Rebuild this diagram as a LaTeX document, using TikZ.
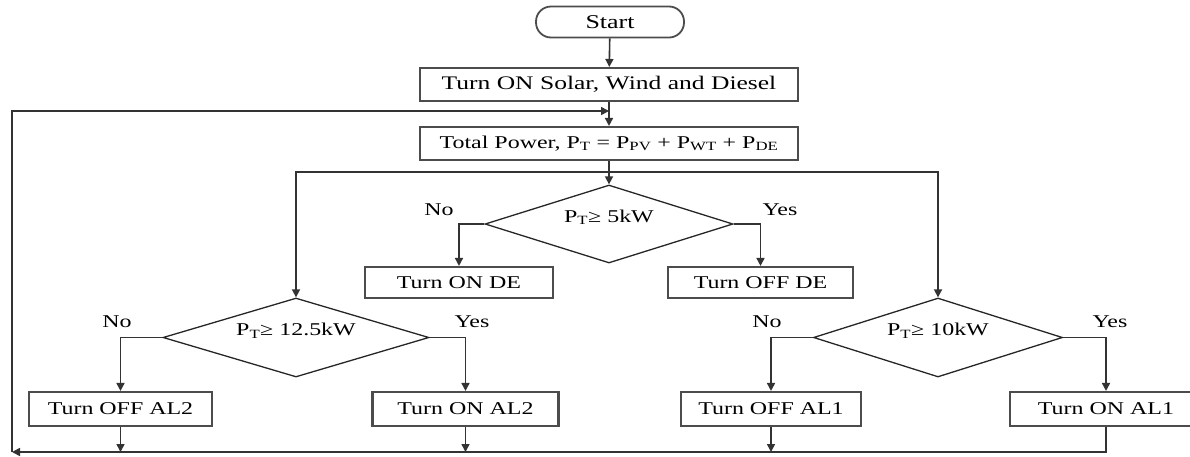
\documentclass[tikz,border=0pt]{standalone}
\usepackage{fontspec}
\setmainfont{Liberation Serif}[FakeStretch=1.33]
\usetikzlibrary{shapes.geometric,arrows.meta}
\begin{document}
\begin{tikzpicture}[x=1pt,y=-1pt,
  every node/.style={font=\fontsize{18}{20}\selectfont, text=black},
  boxnode/.style={draw=black!70, line width=2.1pt, rectangle, minimum height=33pt, inner sep=0pt},
  decision/.style={draw=black!85, line width=1.3pt, diamond, shape aspect=3, inner sep=0pt, text height=6pt, text depth=10pt},
  conn/.style={draw=black!80, line width=1.6pt},
  arr/.style={conn, -{Triangle[length=8pt,width=8pt]}},
  lbl/.style={inner sep=0pt}]
\useasboundingbox (0,0) rectangle (1190,456);

% nodes
\node[draw=black!70, line width=1.8pt, rounded corners=15pt, minimum width=148pt, minimum height=31pt, inner sep=0pt, font=\fontsize{19.5}{21}\selectfont] (start) at (610,22) {Start};
\node[boxnode, minimum width=378pt, font=\fontsize{19.2}{21}\selectfont] (b1) at (609,84.5) {Turn ON Solar, Wind and Diesel};
\node[boxnode, minimum width=378pt] (b2) at (609,143.5) {Total Power, P\textsubscript{T} = P\textsubscript{PV} + P\textsubscript{WT} + P\textsubscript{DE}};
\node[decision, minimum width=248pt, minimum height=78pt] (d1) at (609,224) {P\textsubscript{T}≥ 5kW};
\node[boxnode, minimum width=188pt, minimum height=31pt] (onde) at (459,282.5) {Turn ON DE};
\node[boxnode, minimum width=185pt, minimum height=31pt] (offde) at (760.5,282.5) {Turn OFF DE};
\node[decision, minimum width=266pt, minimum height=79pt] (d2) at (296,337.5) {P\textsubscript{T}≥ 12.5kW};
\node[decision, minimum width=249pt, minimum height=79pt] (d3) at (938,337.5) {P\textsubscript{T}≥ 10kW};
\node[boxnode, minimum width=183pt, minimum height=34pt] (offal2) at (120.5,409) {Turn OFF AL2};
\node[boxnode, minimum width=186pt, minimum height=34pt] (onal2) at (465.5,409) {Turn ON AL2};
\node[boxnode, minimum width=180pt, minimum height=34pt] (offal1) at (771,409) {Turn OFF AL1};
\node[boxnode, minimum width=192pt, minimum height=34pt] (onal1) at (1106,409) {Turn ON AL1};

% labels
\node[lbl] (n1) at (439,210) {No};
\node[lbl] (y1) at (780,210) {Yes};
\node[lbl] (n2) at (117,322) {No};
\node[lbl] (y2) at (472,322) {Yes};
\node[lbl] (n3) at (767,322) {No};
\node[lbl] (y3) at (1110,322) {Yes};

% coordinates
\coordinate (split) at (609,172);
\coordinate (bl) at (12,452);
\coordinate (tl) at (12,111);
\coordinate (join) at (609,111);

% connectors
\draw[arr] (start) -- (b1);
\draw[arr] (b1) -- (b2);
\draw[arr] (b2) -- (d1);
\draw[arr] (split) -| (d2.north);
\draw[arr] (split) -| (d3.north);
\draw[arr] (d1.west) -| (onde.north);
\draw[arr] (d1.east) -| (offde.north);
\draw[arr] (d2.west) -| (offal2.north);
\draw[arr] (d2.east) -| (onal2.north);
\draw[arr] (d3.west) -| (offal1.north);
\draw[arr] (d3.east) -| (onal1.north);
\draw[arr] (offal2.south) -- (offal2.south |- bl);
\draw[arr] (onal2.south) -- (onal2.south |- bl);
\draw[arr] (offal1.south) -- (offal1.south |- bl);
\draw[arr] (onal1.south) |- (bl);
\draw[arr] (bl) -- (tl) -- (join);
\end{tikzpicture}
\end{document}
